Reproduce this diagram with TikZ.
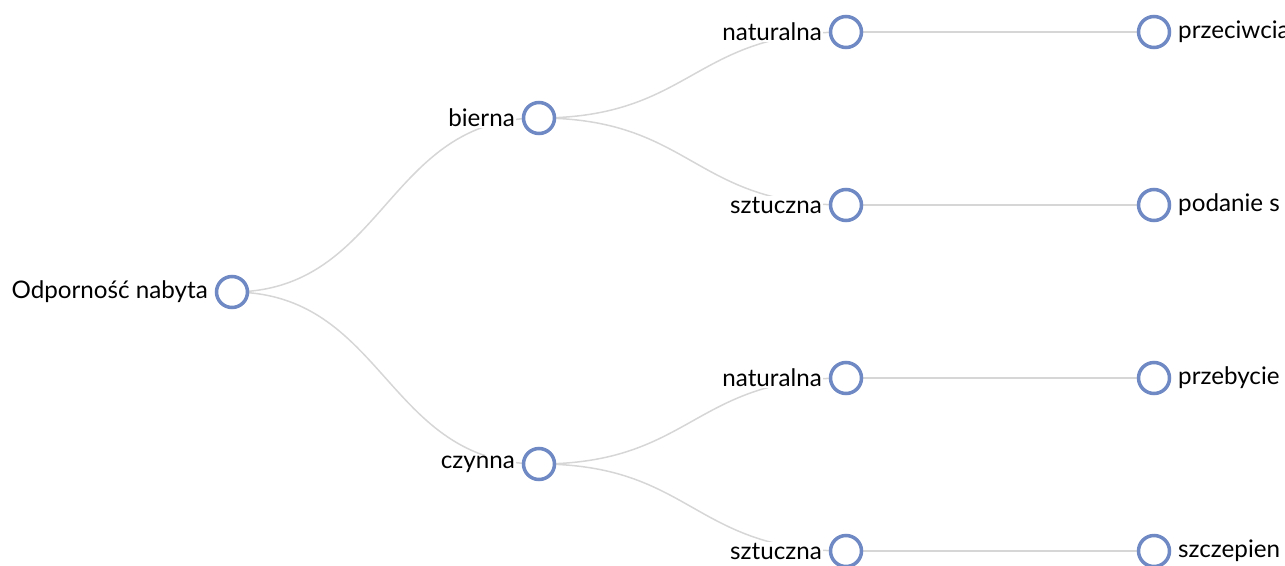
\documentclass[tikz,border=0pt]{standalone}
\usepackage{fontspec}
\setmainfont{Lato}
\begin{document}
\begin{tikzpicture}[x=1pt,y=-1pt,
  dot/.style={circle,draw={rgb,255:red,110;green,137;blue,196},line width=3.5pt,fill=white,minimum size=31pt,inner sep=0pt},
  lab/.style={font=\fontsize{24.2}{28}\selectfont,text=black,inner sep=1pt,fill=white},
  link/.style={draw={rgb,255:red,214;green,214;blue,214},line width=1.5pt}]
\useasboundingbox (0,0) rectangle (1285,565);
\clip (0,0) rectangle (1285,565);
\coordinate (r) at (232,292);
\coordinate (b) at (539,118);
\coordinate (c) at (539,464);
\coordinate (bn) at (846,32);
\coordinate (bs) at (846,205);
\coordinate (cn) at (846,378);
\coordinate (cs) at (846,551);
\coordinate (bn2) at (1154,32);
\coordinate (bs2) at (1154,205);
\coordinate (cn2) at (1154,378);
\coordinate (cs2) at (1154,551);
% links
\path[link] (r) .. controls (385.5,292) and (385.5,118) .. (b);
\path[link] (r) .. controls (385.5,292) and (385.5,464) .. (c);
\path[link] (b) .. controls (692.5,118) and (692.5,32) .. (bn);
\path[link] (b) .. controls (692.5,118) and (692.5,205) .. (bs);
\path[link] (c) .. controls (692.5,464) and (692.5,378) .. (cn);
\path[link] (c) .. controls (692.5,464) and (692.5,551) .. (cs);
\path[link] (bn) -- (bn2);
\path[link] (bs) -- (bs2);
\path[link] (cn) -- (cn2);
\path[link] (cs) -- (cs2);
% labels
\node[lab,anchor=east] (lr) at (209,292) {Odporność nabyta};
\node[lab,anchor=east] (lb) at (516,118) {bierna};
\node[lab,anchor=east] (lc) at (516,464) {czynna};
\node[lab,anchor=east] (lbn) at (823,32) {naturalna};
\node[lab,anchor=east] (lbs) at (823,205) {sztuczna};
\node[lab,anchor=east] (lcn) at (823,378) {naturalna};
\node[lab,anchor=east] (lcs) at (823,551) {sztuczna};
\node[lab,anchor=west] (lbn2) at (1177,32) {przeciwcia};
\node[lab,anchor=west] (lbs2) at (1177,205) {podanie s};
\node[lab,anchor=west] (lcn2) at (1177,378) {przebycie};
\node[lab,anchor=west] (lcs2) at (1177,551) {szczepien};
% dots
\node[dot] (nr) at (r) {};
\node[dot] (nb) at (b) {};
\node[dot] (nc) at (c) {};
\node[dot] (nbn) at (bn) {};
\node[dot] (nbs) at (bs) {};
\node[dot] (ncn) at (cn) {};
\node[dot] (ncs) at (cs) {};
\node[dot] (nbn2) at (bn2) {};
\node[dot] (nbs2) at (bs2) {};
\node[dot] (ncn2) at (cn2) {};
\node[dot] (ncs2) at (cs2) {};
\end{tikzpicture}
\end{document}
